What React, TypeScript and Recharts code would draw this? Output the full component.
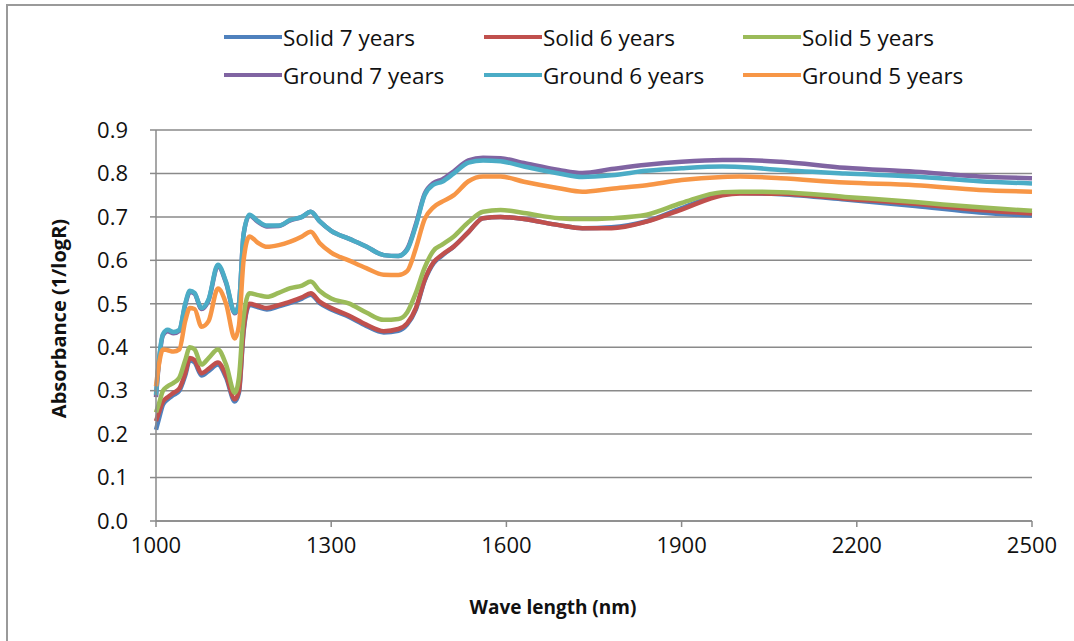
import React from "react";
import { LineChart, Line, XAxis, YAxis, CartesianGrid } from "recharts";

// wavelength samples (nm)
const wavelengths = [
  1000, 1005, 1012, 1020, 1030, 1040, 1050, 1058, 1066, 1078, 1090, 1106, 1120,
  1135, 1142, 1150, 1160, 1175, 1190, 1210, 1230, 1250, 1265, 1280, 1300, 1330,
  1360, 1390, 1415, 1430, 1445, 1460, 1475, 1490, 1510, 1535, 1560, 1590, 1630,
  1690, 1730, 1780, 1840, 1900, 1970, 2000, 2070, 2180, 2300, 2410, 2500,
];

const solid7 = [
  0.21, 0.235, 0.268, 0.28, 0.29, 0.3, 0.335, 0.37, 0.365, 0.335, 0.345, 0.36, 0.33,
  0.275, 0.295, 0.435, 0.497, 0.492, 0.487, 0.494, 0.502, 0.512, 0.521, 0.502, 0.487, 0.47,
  0.449, 0.434, 0.438, 0.452, 0.487, 0.553, 0.593, 0.611, 0.632, 0.665, 0.697, 0.7, 0.695,
  0.681, 0.674, 0.676, 0.69, 0.72, 0.752, 0.755, 0.752, 0.74, 0.725, 0.71, 0.703,
];
const solid6 = [
  0.23, 0.25, 0.275, 0.285, 0.295, 0.305, 0.34, 0.375, 0.37, 0.34, 0.35, 0.365, 0.335,
  0.28, 0.3, 0.44, 0.5, 0.495, 0.49, 0.497, 0.505, 0.515, 0.524, 0.505, 0.49, 0.473,
  0.452, 0.437, 0.442, 0.455, 0.49, 0.555, 0.595, 0.613, 0.632, 0.665, 0.697, 0.7, 0.695,
  0.681, 0.674, 0.674, 0.689, 0.717, 0.75, 0.754, 0.753, 0.742, 0.73, 0.716, 0.708,
];
const solid5 = [
  0.25, 0.27, 0.3, 0.31, 0.318, 0.33, 0.37, 0.4, 0.395, 0.36, 0.375, 0.395, 0.36,
  0.295, 0.33, 0.47, 0.524, 0.52, 0.516, 0.525, 0.536, 0.542, 0.551, 0.53, 0.512, 0.501,
  0.48, 0.463, 0.465, 0.48, 0.525, 0.583, 0.622, 0.636, 0.655, 0.688, 0.712, 0.716, 0.709,
  0.697, 0.695, 0.697, 0.705, 0.732, 0.757, 0.758, 0.757, 0.746, 0.734, 0.722, 0.714,
];
const ground7 = [
  0.285, 0.365, 0.428, 0.437, 0.432, 0.438, 0.497, 0.527, 0.523, 0.488, 0.508, 0.587, 0.548,
  0.478, 0.5, 0.66, 0.703, 0.688, 0.678, 0.679, 0.692, 0.7, 0.712, 0.69, 0.668, 0.65,
  0.632, 0.612, 0.61, 0.626, 0.683, 0.753, 0.778, 0.786, 0.805, 0.83, 0.836, 0.835, 0.824,
  0.808, 0.801, 0.81, 0.82, 0.827, 0.831, 0.831, 0.827, 0.813, 0.804, 0.793, 0.789,
];
const ground6 = [
  0.29, 0.37, 0.43, 0.44, 0.435, 0.44, 0.5, 0.53, 0.525, 0.49, 0.51, 0.59, 0.55,
  0.48, 0.5, 0.66, 0.705, 0.69, 0.68, 0.68, 0.693, 0.7, 0.712, 0.69, 0.668, 0.65,
  0.632, 0.612, 0.61, 0.624, 0.68, 0.75, 0.774, 0.781, 0.8, 0.825, 0.83, 0.828, 0.816,
  0.8, 0.792, 0.796, 0.806, 0.812, 0.816, 0.815, 0.808, 0.8, 0.793, 0.782, 0.777,
];
const ground5 = [
  0.31, 0.36, 0.395, 0.393, 0.39, 0.395, 0.46, 0.49, 0.488, 0.447, 0.46, 0.535, 0.5,
  0.42, 0.45, 0.6, 0.655, 0.64, 0.631, 0.635, 0.643, 0.655, 0.666, 0.64, 0.618, 0.6,
  0.582, 0.567, 0.566, 0.575, 0.628, 0.695, 0.722, 0.735, 0.75, 0.782, 0.793, 0.793, 0.781,
  0.766, 0.758, 0.765, 0.773, 0.785, 0.792, 0.793, 0.789, 0.779, 0.773, 0.762, 0.758,
];

const seriesNames = [
  "Solid 7 years", "Solid 6 years", "Solid 5 years",
  "Ground 7 years", "Ground 6 years", "Ground 5 years",
];
const seriesValues = [solid7, solid6, solid5, ground7, ground6, ground5];
const seriesColors = ["#4F81BD", "#C0504D", "#9BBB59", "#8064A2", "#4BACC6", "#F79646"];

const xTicks = [1000, 1300, 1600, 1900, 2200, 2500];
const yTicks = [0, 0.1, 0.2, 0.3, 0.4, 0.5, 0.6, 0.7, 0.8, 0.9];

const rows = wavelengths.map((wl, i) => {
  const row: Record<string, number> = { wl };
  seriesNames.forEach((name, s) => {
    row[name] = seriesValues[s][i];
  });
  return row;
});

const font = "'Open Sans', Lato, sans-serif";
const axisGray = "#8a8a8a";

// legend laid out in two rows of three
const legendCols = [224, 484, 743];
const legendRows = [37, 75];

function ChartLegend() {
  return (
    <>
      {seriesNames.map((name, i) => (
        <div
          key={name}
          style={{
            position: "absolute",
            left: legendCols[i % 3],
            top: legendRows[Math.floor(i / 3)] - 15,
            height: 30,
            display: "flex",
            alignItems: "center",
            fontFamily: font,
            fontSize: 22.5,
            color: "#111",
            whiteSpace: "nowrap",
          }}
        >
          <span
            style={{
              display: "inline-block",
              width: 58,
              height: 4,
              background: seriesColors[i],
              marginRight: 1,
            }}
          />
          {name}
        </div>
      ))}
    </>
  );
}

export default function App() {
  return (
    <div
      style={{
        position: "absolute",
        left: 0,
        top: 0,
        width: 1074,
        height: 641,
        overflow: "hidden",
        background: "#fff",
      }}
    >
      <div
        style={{
          position: "absolute",
          left: 6,
          top: 4,
          width: 1200,
          height: 800,
          borderTop: "2px solid #9a9a9a",
          borderLeft: "2px solid #9a9a9a",
        }}
      />
      <ChartLegend />
      <div style={{ position: "absolute", left: 0, top: 0 }}>
        <LineChart
          width={1074}
          height={641}
          data={rows}
          margin={{ top: 130, right: 42, bottom: 0, left: 0 }}
        >
          <CartesianGrid vertical={false} stroke={axisGray} strokeWidth={1.5} />
          <XAxis
            dataKey="wl"
            type="number"
            domain={[1000, 2500]}
            ticks={xTicks}
            height={120}
            stroke={axisGray}
            strokeWidth={1.5}
            tickSize={6}
            tickMargin={10}
            tick={{ fill: "#111", fontSize: 22, fontFamily: font }}
            label={{
              value: "Wave length (nm)",
              position: "center",
              dx: -41,
              dy: 26,
              style: { fill: "#111", fontSize: 19, fontWeight: 700, fontFamily: font },
            }}
          />
          <YAxis
            type="number"
            domain={[0, 0.9]}
            ticks={yTicks}
            width={156}
            stroke={axisGray}
            strokeWidth={1.5}
            tickSize={6}
            tickMargin={22}
            tickFormatter={(v: number) => v.toFixed(1)}
            tick={{ fill: "#111", fontSize: 22, fontFamily: font }}
            label={{
              value: "Absorbance (1/logR)",
              angle: -90,
              position: "center",
              dx: -19,
              dy: -7,
              style: { fill: "#111", fontSize: 20, fontWeight: 700, fontFamily: font },
            }}
          />
          {seriesNames.map((name, i) => (
            <Line
              key={name}
              type="monotone"
              dataKey={name}
              stroke={seriesColors[i]}
              strokeWidth={4.5}
              dot={false}
              isAnimationActive={false}
            />
          ))}
        </LineChart>
      </div>
    </div>
  );
}
